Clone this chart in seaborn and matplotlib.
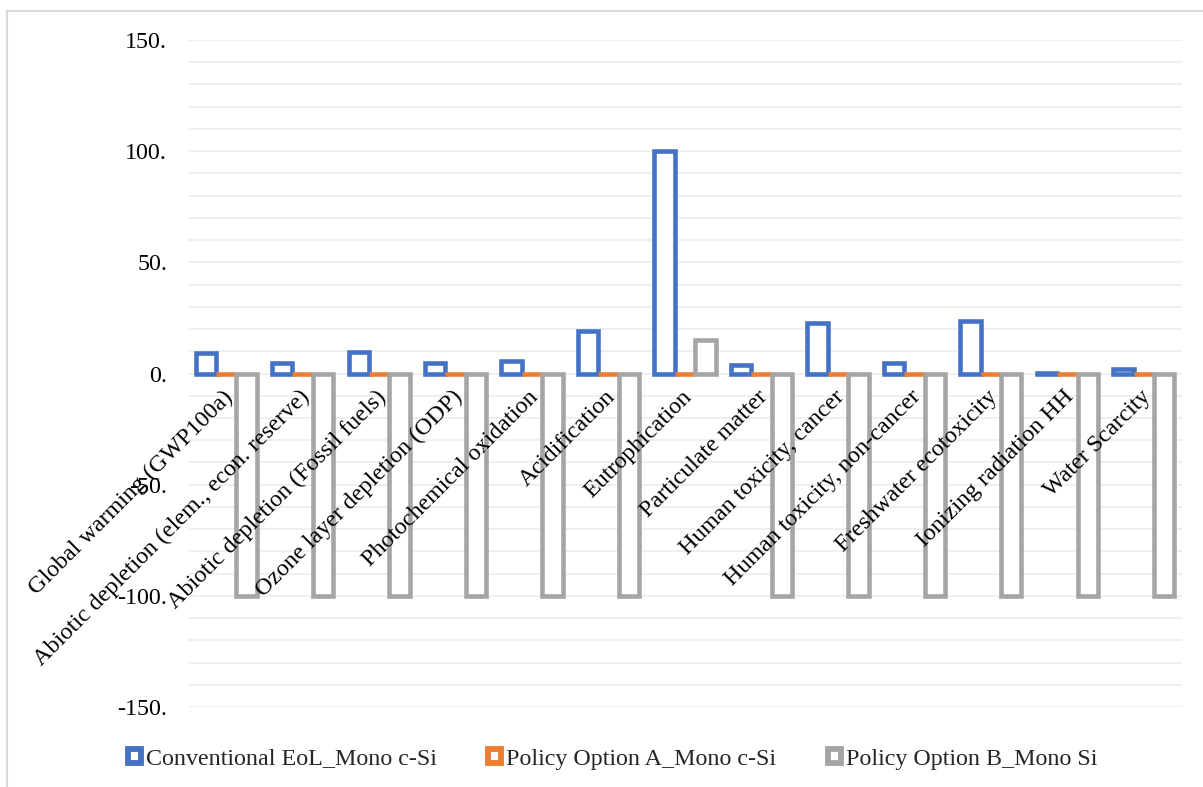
import numpy as np
import pandas as pd
import matplotlib
matplotlib.use("Agg")
import matplotlib.pyplot as plt
import matplotlib.transforms as mtransforms
from matplotlib.patches import Patch
from matplotlib.lines import Line2D
import seaborn as sns

# Impact categories and relative impact values (%)
categories = [
    "Global warming (GWP100a)",
    "Abiotic depletion (elem., econ. reserve)",
    "Abiotic depletion (Fossil fuels)",
    "Ozone layer depletion (ODP)",
    "Photochemical oxidation",
    "Acidification",
    "Eutrophication",
    "Particulate matter",
    "Human toxicity, cancer",
    "Human toxicity, non-cancer",
    "Freshwater ecotoxicity",
    "Ionizing radiation HH",
    "Water Scarcity",
]
conventional = [9.0, 4.8, 9.8, 4.8, 5.4, 19.2, 100.0, 3.8, 22.5, 4.8, 23.7, 0.3, 1.8]
policy_a = [0.0, 0.0, 0.0, 0.0, 0.0, 0.0, 0.0, 0.0, 0.0, 0.0, 0.0, 0.0, 0.0]
policy_b = [-100.0, -100.0, -100.0, -100.0, -100.0, -100.0, 15.0,
            -100.0, -100.0, -100.0, -100.0, -100.0, -100.0]
series_names = [
    "Conventional EoL_Mono c-Si",
    "Policy Option A_Mono c-Si",
    "Policy Option B_Mono Si",
]
series_colors = ["#4472C4", "#ED7D31", "#A5A5A5"]
y_ticks = [-150, -100, -50, 0, 50, 100, 150]

df = pd.DataFrame({
    "category": categories * 3,
    "series": np.repeat(series_names, len(categories)),
    "value": conventional + policy_a + policy_b,
})

sns.set_theme(style="white")
plt.rcParams["font.family"] = ["Liberation Serif", "DejaVu Serif"]
FS = 17.3

fig = plt.figure(figsize=(12.03, 7.87), dpi=100)
ax = fig.add_axes([188 / 1203, 1 - 707 / 787, (1182 - 188) / 1203, (707 - 40) / 787])

sns.barplot(
    data=df, x="category", y="value", hue="series",
    order=categories, hue_order=series_names,
    palette=dict(zip(series_names, series_colors)),
    fill=False, linewidth=3.3, width=0.8, legend=False, ax=ax,
    errorbar=None,
)
for p in ax.patches:
    p.set_facecolor("white")
    p.set_joinstyle("miter")

ax.set_ylim(-150, 150)
ax.set_xlim(-0.5, len(categories) - 0.5)
ax.set_yticks(y_ticks)
ax.set_yticklabels([f"{v}." for v in y_ticks], fontsize=FS, color="black")
ax.set_yticks(np.arange(-150, 151, 10), minor=True)
ax.tick_params(axis="y", which="both", length=0, pad=15)
ax.set_axisbelow(True)
ax.grid(axis="y", which="both", color="#EFEFEF", linewidth=1.4)
ax.grid(axis="x", visible=False)
ax.set_xticks([])
ax.set_xlabel("")
ax.set_ylabel("")
for s in ax.spines.values():
    s.set_visible(False)

# Category labels sit just below the zero line, rotated 45 degrees
base = mtransforms.blended_transform_factory(ax.transData, ax.transData)
offset = mtransforms.ScaledTranslation(-4 / 100, -13 / 100, fig.dpi_scale_trans)
for i, name in enumerate(categories):
    ax.text(i, 0, name, transform=base + offset, rotation=45,
            rotation_mode="anchor", ha="right", va="top",
            fontsize=FS, color="black", zorder=5)

handles = [Patch(facecolor="white", edgecolor=c, linewidth=4.2, joinstyle="miter")
           for c in series_colors]
fig.legend(handles, series_names, loc="center", ncol=3,
           bbox_to_anchor=(0.509, 1 - 759 / 787), frameon=False,
           fontsize=FS, handlelength=0.55, handleheight=0.55,
           handletextpad=0.2, columnspacing=2.15)

# Chart-area border
border = dict(color="#D9D9D9", linewidth=1.5, transform=fig.transFigure)
fig.add_artist(Line2D([7 / 1203, 7 / 1203], [0, 1 - 11 / 787], **border))
fig.add_artist(Line2D([7 / 1203, 1], [1 - 11 / 787, 1 - 11 / 787], **border))

fig.savefig("out.png", dpi=100)
